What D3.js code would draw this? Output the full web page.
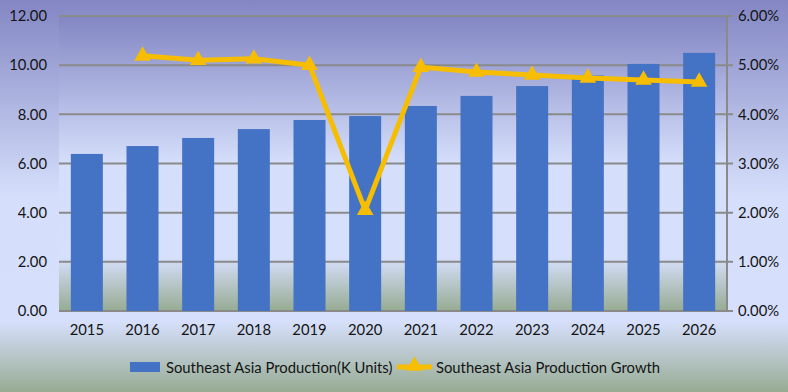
<!DOCTYPE html>
<html><head><meta charset="utf-8">
<script src="https://cdn.jsdelivr.net/npm/d3@7"></script>
<style>body{margin:0;}svg{display:block;}</style>
</head><body>
<script>
const years = ["2015","2016","2017","2018","2019","2020","2021","2022","2023","2024","2025","2026"];
const production = [6.39, 6.71, 7.04, 7.40, 7.77, 7.93, 8.34, 8.75, 9.15, 9.58, 10.05, 10.50];
const growth = [null, 5.19, 5.10, 5.13, 5.00, 2.05, 4.96, 4.86, 4.80, 4.74, 4.70, 4.66];
const leftTicks = [0, 2, 4, 6, 8, 10, 12];
const rightTicks = [0, 1, 2, 3, 4, 5, 6];
const seriesNames = ["Southeast Asia Production(K Units)", "Southeast Asia Production Growth"];

const W = 788, H = 392;
const m = {left: 59, right: 727, top: 16, bottom: 311};
const font = "Lato, 'Open Sans', sans-serif";
const fs = 14.8;
const txt = "#141414";

const svg = d3.select("body").append("svg").attr("width", W).attr("height", H);
const defs = svg.append("defs");
function grad(id) {
  const g = defs.append("linearGradient").attr("id", id).attr("x1", 0).attr("y1", 0).attr("x2", 0).attr("y2", 1);
  [[0, "#8386c3"], [0.5, "#d5dffb"], [0.82, "#d6e0fc"], [1, "#97ab93"]].forEach(s =>
    g.append("stop").attr("offset", s[0]).attr("stop-color", s[1]));
}
grad("bg"); grad("plotbg");

svg.append("rect").attr("width", W).attr("height", H).attr("fill", "url(#bg)");

const x = d3.scaleBand().domain(years).range([m.left, m.right]).paddingInner(0.425).paddingOuter(0.2125);
const y = d3.scaleLinear().domain([0, 12]).range([m.bottom, m.top]);
const y2 = d3.scaleLinear().domain([0, 6]).range([m.bottom, m.top]);

svg.append("rect").attr("x", m.left).attr("y", m.top).attr("width", m.right - m.left)
  .attr("height", m.bottom - m.top).attr("fill", "url(#plotbg)");

// gridlines
svg.append("g").selectAll("line").data(leftTicks).join("line")
  .attr("x1", m.left).attr("x2", m.right + 6)
  .attr("y1", d => y(d)).attr("y2", d => y(d))
  .attr("stroke", "#8a8a8a").attr("stroke-width", 2);

// bars
svg.append("g").selectAll("rect").data(years).join("rect")
  .attr("x", d => x(d)).attr("width", x.bandwidth())
  .attr("y", (d, i) => y(production[i])).attr("height", (d, i) => y(0) - y(production[i]))
  .attr("fill", "#4472c4");

// right axis line
svg.append("line").attr("x1", m.right).attr("x2", m.right).attr("y1", m.top).attr("y2", m.bottom)
  .attr("stroke", "#8a8a8a").attr("stroke-width", 2);

// left axis labels
const yAxis = d3.axisLeft(y).tickValues(leftTicks).tickFormat(d3.format(".2f")).tickSize(0).tickPadding(12);
const gy = svg.append("g").attr("transform", `translate(${m.left},0)`).call(yAxis);
gy.select(".domain").remove();
gy.selectAll("text").attr("font-family", font).attr("font-size", fs).attr("fill", txt);

const y2Axis = d3.axisRight(y2).tickValues(rightTicks).tickFormat(d => d.toFixed(2) + "%").tickSize(0).tickPadding(11);
const gy2 = svg.append("g").attr("transform", `translate(${m.right},0)`).call(y2Axis);
gy2.select(".domain").remove();
gy2.selectAll("text").attr("font-family", font).attr("font-size", fs).attr("fill", txt);

const xAxis = d3.axisBottom(x).tickSize(0).tickPadding(13);
const gx = svg.append("g").attr("transform", `translate(0,${m.bottom})`).call(xAxis);
gx.select(".domain").remove();
gx.selectAll("text").attr("font-family", font).attr("font-size", fs).attr("fill", txt);

// growth line
const pts = years.map((d, i) => ({yr: d, v: growth[i]})).filter(p => p.v != null);
const line = d3.line().x(p => x(p.yr) + x.bandwidth() / 2).y(p => y2(p.v));
svg.append("path").datum(pts).attr("d", line).attr("fill", "none")
  .attr("stroke", "#f7bd00").attr("stroke-width", 5).attr("stroke-linejoin", "round");
const tri = d3.symbol().type(d3.symbolTriangle).size(120);
svg.append("g").selectAll("path").data(pts).join("path")
  .attr("d", tri)
  .attr("transform", p => `translate(${x(p.yr) + x.bandwidth() / 2},${y2(p.v)})`)
  .attr("fill", "#f7bd00");

// legend
const lg = svg.append("g");
lg.append("rect").attr("x", 130).attr("y", 362).attr("width", 30).attr("height", 10).attr("fill", "#4472c4");
lg.append("text").attr("x", 166).attr("y", 373).text(seriesNames[0])
  .attr("font-family", font).attr("font-size", fs).attr("fill", txt);
lg.append("line").attr("x1", 397).attr("x2", 432).attr("y1", 367).attr("y2", 367)
  .attr("stroke", "#f7bd00").attr("stroke-width", 5);
lg.append("path").attr("d", tri).attr("transform", "translate(414.5,366)").attr("fill", "#f7bd00");
lg.append("text").attr("x", 436).attr("y", 373).text(seriesNames[1])
  .attr("font-family", font).attr("font-size", fs).attr("fill", txt);
</script>
</body></html>
